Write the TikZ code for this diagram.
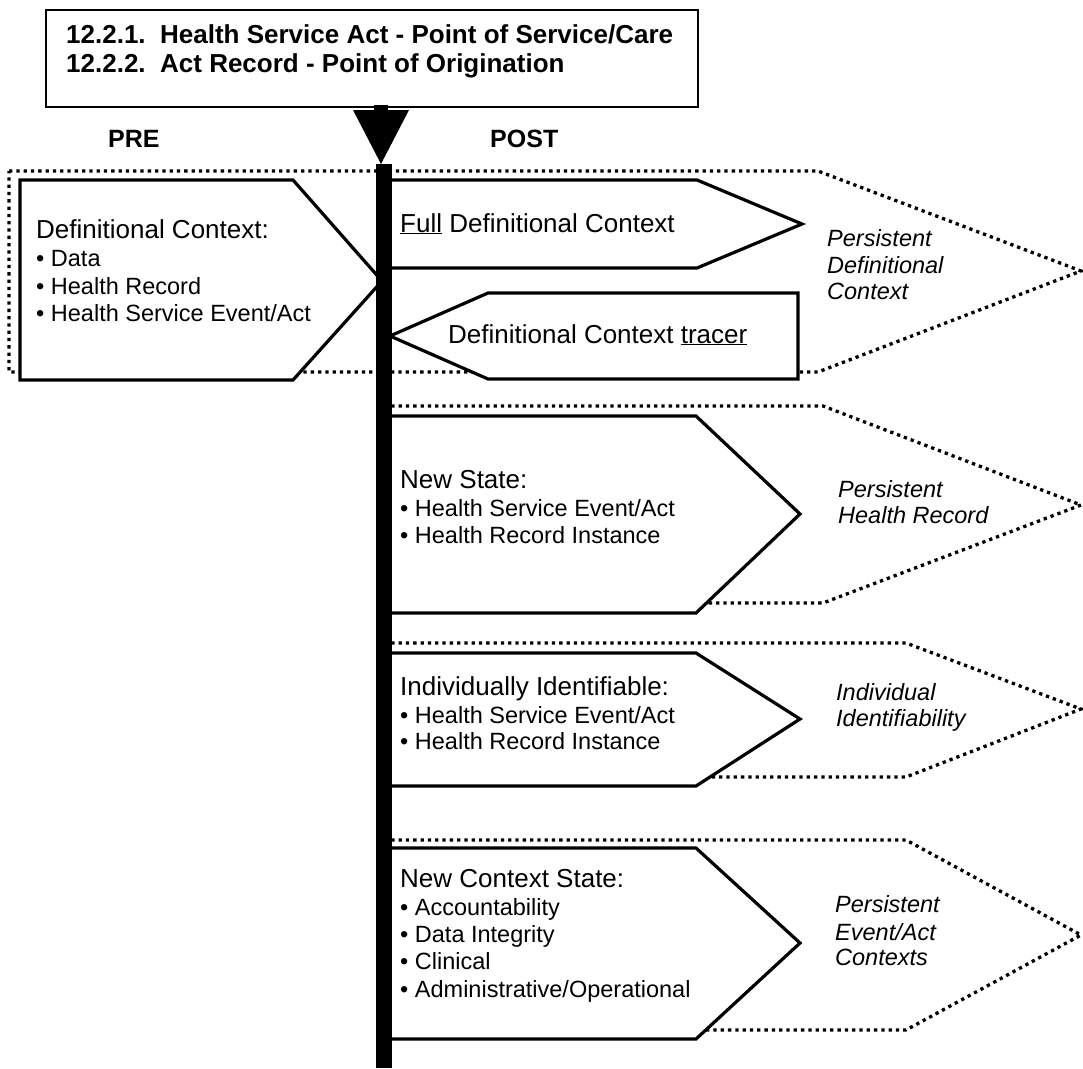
\documentclass[tikz,border=0pt]{standalone}
\usepackage{fontspec}
\setmainfont{Liberation Sans}
\frenchspacing
\begin{document}
\begin{tikzpicture}[x=1pt,y=-1pt,
  signbox/.style={draw=black, line width=3.2pt, fill=white, line join=miter},
  zone/.style={draw=black, line width=3.3pt, dash pattern=on 3.3pt off 4pt},
  head/.style={anchor=base west, inner sep=0pt, font=\fontsize{26}{30}\selectfont},
  item/.style={anchor=base west, inner sep=0pt, font=\fontsize{23.5}{27}\selectfont},
  note/.style={anchor=base west, inner sep=0pt, font=\fontsize{23.5}{27}\selectfont\itshape},
  titletext/.style={anchor=base west, inner sep=0pt, font=\fontsize{26}{30}\selectfont\bfseries},
  side/.style={anchor=base west, inner sep=0pt, font=\fontsize{25}{30}\selectfont\bfseries}]
\useasboundingbox (0,0) rectangle (1083,1068);

% dotted persistence zones
\draw[zone] (9,171) -- (818,171) -- (1081,271) -- (818,372) -- (9,372) -- cycle;
\draw[zone] (384,406) -- (823,406) -- (1081,505) -- (823,603) -- (384,603);
\draw[zone] (384,643) -- (906,643) -- (1081,709) -- (906,777) -- (384,777);
\draw[zone] (384,840) -- (906,840) -- (1081,935) -- (906,1030) -- (384,1030);

% signposts
\draw[signbox] (20,180) -- (293,180) -- (382,281) -- (293,380) -- (20,380) -- cycle;
\draw[signbox] (390,180) -- (697,180) -- (802,224) -- (697,268) -- (390,268) -- cycle;
\draw[signbox] (390,336) -- (488,293) -- (798,293) -- (798,379) -- (488,379) -- cycle;
\draw[signbox] (390,416) -- (696,416) -- (800,514) -- (696,613) -- (390,613) -- cycle;
\draw[signbox] (390,653) -- (696,653) -- (800,719) -- (696,786) -- (390,786) -- cycle;
\draw[signbox] (390,848) -- (696,848) -- (800,943) -- (696,1039) -- (390,1039) -- cycle;

% title box
\node[draw=black, line width=2pt, anchor=north west, inner sep=0pt,
      minimum width=652pt, minimum height=97pt] (title) at (45,9) {};
\node[titletext] (t1) at (66,43) {12.2.1.\ \ Health Service Act - Point of Service/Care};
\node[titletext] (t2) at (66,72) {12.2.2.\ \ Act Record - Point of Origination};

% time line with its arrow head
\coordinate (bartop) at (384,164);
\coordinate (barend) at (384,1068);
\fill (374,105) rectangle (388,110);
\fill (353,110) -- (409,110) -- (381,164) -- cycle;
\draw[line width=16pt] (bartop) -- (barend);

\node[side] (pre) at (108,147) {PRE};
\node[side] (post) at (490,147) {POST};

% pre-condition
\node[head] (dc) at (36,238) {Definitional Context:};
\node[item] (dc1) at (36,266) {• Data};
\node[item] (dc2) at (36,294) {• Health Record};
\node[item] (dc3) at (36,321) {• Health Service Event/Act};

% post-conditions
\node[head] (full) at (400,232) {\underline{Full} Definitional Context};
\node[head] (tracer) at (448,343) {Definitional Context \underline{tracer}};

\node[head] (ns) at (400,488) {New State:};
\node[item] (ns1) at (400,516) {• Health Service Event/Act};
\node[item] (ns2) at (400,543) {• Health Record Instance};

\node[head] (ii) at (400,695) {Individually Identifiable:};
\node[item] (ii1) at (400,723) {• Health Service Event/Act};
\node[item] (ii2) at (400,749) {• Health Record Instance};

\node[head] (nc) at (400,887) {New Context State:};
\node[item] (nc1) at (400,915) {• Accountability};
\node[item] (nc2) at (400,942) {• Data Integrity};
\node[item] (nc3) at (400,969) {• Clinical};
\node[item] (nc4) at (400,997) {• Administrative/Operational};

% persistence labels
\node[note] (p1a) at (827,246) {Persistent};
\node[note] (p1b) at (827,273) {Definitional};
\node[note] (p1c) at (827,299) {Context};
\node[note] (p2a) at (838,497) {Persistent};
\node[note] (p2b) at (838,523) {Health Record};
\node[note] (p3a) at (836,700) {Individual};
\node[note] (p3b) at (836,726) {Identifiability};
\node[note] (p4a) at (835,912) {Persistent};
\node[note] (p4b) at (835,940) {Event/Act};
\node[note] (p4c) at (835,965) {Contexts};
\end{tikzpicture}
\end{document}
